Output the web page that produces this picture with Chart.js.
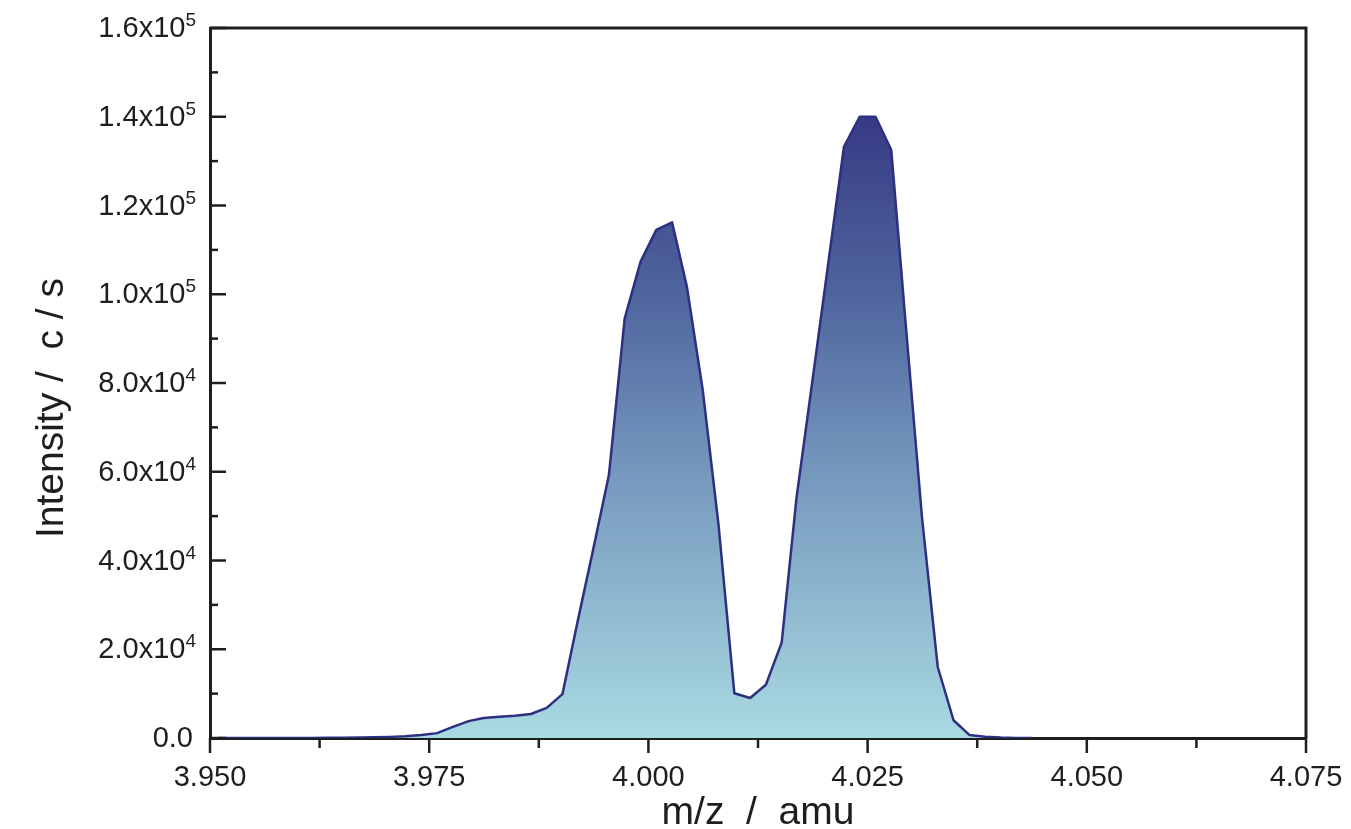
<!DOCTYPE html>
<html>
<head>
<meta charset="utf-8">
<title>Mass spectrum</title>
<script src="https://cdn.jsdelivr.net/npm/chart.js@4.4.1/dist/chart.umd.min.js"></script>
<style>
  html, body { margin: 0; padding: 0; background: #fff; }
  #wrap { width: 1351px; height: 829px; position: relative; }
</style>
</head>
<body>
<div id="wrap"><canvas id="spectrum"></canvas></div>
<script>
// m/z positions of the measured points (amu)
const mz = [
  3.9509, 3.9527, 3.9545, 3.9562, 3.9580, 3.9598, 3.9616, 3.9634, 3.9652, 3.9670,
  3.9687, 3.9705, 3.9723, 3.9741, 3.9759, 3.9777, 3.9795, 3.9812, 3.9830, 3.9848,
  3.9866, 3.9884, 3.9902, 3.9919, 3.9937, 3.9955, 3.9973, 3.9991, 4.0009, 4.0027,
  4.0044, 4.0062, 4.0080, 4.0098, 4.0116, 4.0134, 4.0152, 4.0169, 4.0187, 4.0205,
  4.0223, 4.0241, 4.0259, 4.0277, 4.0294, 4.0312, 4.0330, 4.0348, 4.0366, 4.0384,
  4.0402, 4.0419, 4.0437
]
// intensity, counts per second
const intensity = [
  0, 0, 0, 0, 0, 0, 0, 50, 50, 100,
  150, 250, 400, 700, 1100, 2500, 3800, 4500, 4800, 5000,
  5400, 6800, 9900, 26000, 42500, 59300, 94600, 107300, 114500, 116200,
  101600, 78400, 48000, 10100, 9000, 12000, 21500, 54300, 80400, 106800,
  133200, 140000, 140000, 132500, 92000, 49800, 16000, 4000, 700, 300,
  100, 0, 0
]
const xTickLabels = ['3.950', '3.975', '4.000', '4.025', '4.050', '4.075']
const yTickMantissa = ['0.0', '2.0', '4.0', '6.0', '8.0', '1.0', '1.2', '1.4', '1.6']
const yTickExponent = ['', '4', '4', '4', '4', '5', '5', '5', '5']

const FONT = "'Liberation Sans', Arial, sans-serif"
const INK = '#1e1e1e'

// frame, tick marks, y labels with superscripts, axis titles
const framePlugin = {
  id: 'frame',
  afterDraw(chart) {
    const c = chart.ctx
    const a = chart.chartArea
    const xs = chart.scales.x
    const ys = chart.scales.y
    c.save()
    c.strokeStyle = INK
    c.lineWidth = 3
    c.beginPath()
    c.moveTo(a.left, a.top)
    c.lineTo(a.right, a.top)
    c.lineTo(a.right, a.bottom)
    c.stroke()

    c.lineWidth = 2.5
    ys.ticks.forEach(t => {
      const py = ys.getPixelForValue(t.value)
      const major = Math.round(t.value) % 20000 === 0
      c.beginPath()
      c.moveTo(a.left, py)
      c.lineTo(a.left + (major ? 16 : 8), py)
      c.stroke()
    })
    xs.ticks.forEach(t => {
      const px = xs.getPixelForValue(t.value)
      const major = Math.round(t.value * 10000) % 250 === 0
      c.beginPath()
      c.moveTo(px, a.bottom)
      c.lineTo(px, a.bottom + (major ? 15 : 10))
      c.stroke()
    })

    // y tick labels
    c.fillStyle = INK
    yTickMantissa.forEach((m, i) => {
      const py = ys.getPixelForValue(i * 20000)
      const exp = yTickExponent[i]
      let right = 196
      c.textBaseline = 'middle'
      if (exp) {
        c.font = '19px ' + FONT
        const w = c.measureText(exp).width
        c.textAlign = 'left'
        c.fillText(exp, right - w, py - 7)
        right -= w
        c.font = '29px ' + FONT
        c.textAlign = 'right'
        c.fillText(m + 'x10', right, py + 1)
      } else {
        c.font = '29px ' + FONT
        c.textAlign = 'right'
        c.fillText(m, right - 3, py + 1)
      }
    })

    // axis titles
    c.font = '39px ' + FONT
    c.textAlign = 'center'
    c.textBaseline = 'middle'
    c.fillText('m/z  /  amu', (a.left + a.right) / 2, 813)
    c.translate(52, 408)
    c.rotate(-Math.PI / 2)
    c.fillText('Intensity /  c / s', 0, 0)
    c.restore()
  }
}

const points = mz.map((x, i) => ({ x: x, y: intensity[i] }))

new Chart(document.getElementById('spectrum'), {
  type: 'line',
  data: {
    datasets: [{
      data: points,
      borderColor: '#2d2f80',
      borderWidth: 2.5,
      borderJoinStyle: 'round',
      pointRadius: 0,
      tension: 0,
      fill: 'origin',
      backgroundColor: function(ctx) {
        const chart = ctx.chart
        if (!chart.chartArea) return '#7597bd'
        const y = chart.scales.y
        const g = chart.ctx.createLinearGradient(0, y.getPixelForValue(140000), 0, y.getPixelForValue(0))
        g.addColorStop(0, '#373a84')
        g.addColorStop(0.3, '#50679f')
        g.addColorStop(0.57, '#7597bd')
        g.addColorStop(1, '#a9dae2')
        return g
      }
    }]
  },
  options: {
    responsive: true,
    maintainAspectRatio: false,
    animation: false,
    layout: { padding: { top: 28, right: 45, left: 0, bottom: 0 } },
    plugins: { legend: { display: false }, tooltip: { enabled: false } },
    scales: {
      x: {
        type: 'linear',
        min: 3.95,
        max: 4.075,
        grid: { display: false, drawTicks: false },
        border: { color: INK, width: 3 },
        ticks: {
          stepSize: 0.0125,
          autoSkip: false,
          maxRotation: 0,
          padding: 23,
          color: INK,
          font: { family: FONT, size: 29 },
          callback: v => xTickLabels.find(l => Math.abs(parseFloat(l) - v) < 1e-6) || ''
        },
        afterFit: s => { s.height = 91; s.paddingLeft = 0; s.paddingRight = 0 }
      },
      y: {
        min: 0,
        max: 160000,
        grid: { display: false, drawTicks: false },
        border: { color: INK, width: 3 },
        ticks: { stepSize: 10000, display: false },
        afterFit: s => { s.width = 210 }
      }
    }
  },
  plugins: [framePlugin]
})
</script>
</body>
</html>
